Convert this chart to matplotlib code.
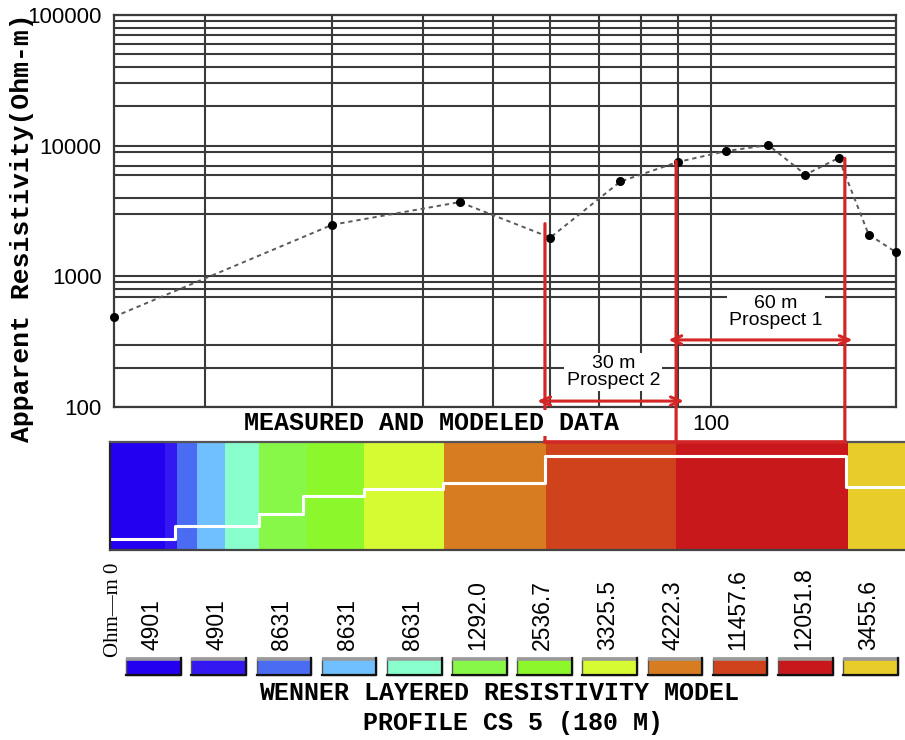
import numpy as np
import matplotlib
matplotlib.use("Agg")
import matplotlib.pyplot as plt
from matplotlib.ticker import FixedLocator, FixedFormatter, NullFormatter
from matplotlib.patches import Rectangle, ConnectionPatch
from matplotlib import font_manager

# ---------------- data ----------------
spacing_m = [15, 30, 45, 60, 75, 90, 105, 120, 135, 150, 165, 180]
app_res = [490, 2480, 3700, 1980, 5320, 7500, 9100, 10100, 6000, 8050, 2090, 1530]

y_major = [100, 1000, 10000, 100000]
y_major_labels = ["100", "1000", "10000", "100000"]
y_grid_minor = [200, 300, 700, 800, 900,
                3000, 4000, 6000, 7000, 9000,
                20000, 30000, 40000, 50000, 60000, 70000, 80000, 90000]
x_major = [100]
x_major_labels = ["100"]
x_grid_minor = [20, 30, 40, 50, 60, 70, 80, 90]

# prospect markers (x in m along log axis, top of line in Ohm-m)
red_x = [59, 89.5, 153]
red_top = [2530, 7600, 8000]
prospect_labels = ["30 m\nProspect 2", "60 m\nProspect 1"]
prospect_bounds = [(59, 89.5), (89.5, 153)]
prospect_arrow_res = [111, 326]
prospect_label_x = [73.3, 123]
prospect_label_res = [186, 533]

# layered model bar
layer_edges = [14.81, 17.62, 18.33, 19.53, 21.34, 23.78, 27.70, 33.2, 42.8, 59.2, 89.5, 154.5, 185.2]
layer_colors = ["#2400f0", "#3318f2", "#4a6cf3", "#70c0ff", "#88ffcc", "#88f848",
                "#8cf82c", "#d6fb32", "#d87c22", "#d0421c", "#c8181c", "#e8cc2a"]
step_x = [14.81, 18.21, 23.78, 27.34, 33.2, 42.7, 59.0, 153.5, 185.2]
step_depth = [0.90, 0.78, 0.67, 0.50, 0.435, 0.38, 0.13, 0.415]

legend_labels = ["4901", "4901", "8631", "8631", "8631", "1292.0", "2536.7",
                 "3325.5", "4222.3", "11457.6", "12051.8", "3455.6"]

RED = "#d42626"
GRID = "#3a3a3a"

names = {f.name for f in font_manager.fontManager.ttflist}
if "Liberation Sans Narrow" in names:
    narrow_font, narrow_size = "Liberation Sans Narrow", 19.5
else:
    narrow_font, narrow_size = "Liberation Sans", 16.5
SANS = "Liberation Sans"
MONO = "Liberation Mono"

W, H = 905, 740
fig = plt.figure(figsize=(W / 100, H / 100), dpi=100)


def fr(x0, y0, x1, y1):
    return [x0 / W, 1 - y1 / H, (x1 - x0) / W, (y1 - y0) / H]


# ---------------- top chart ----------------
ax = fig.add_axes(fr(114, 15, 896, 407))
ax.set_xscale("log")
ax.set_yscale("log")
ax.set_xlim(15, 180)
ax.set_ylim(100, 100000)

ax.xaxis.set_major_locator(FixedLocator(x_major))
ax.xaxis.set_major_formatter(FixedFormatter(x_major_labels))
ax.xaxis.set_minor_locator(FixedLocator(x_grid_minor))
ax.xaxis.set_minor_formatter(NullFormatter())
ax.yaxis.set_major_locator(FixedLocator(y_major))
ax.yaxis.set_major_formatter(FixedFormatter(y_major_labels))
ax.yaxis.set_minor_locator(FixedLocator(y_grid_minor))
ax.yaxis.set_minor_formatter(NullFormatter())
ax.grid(True, which="both", color=GRID, lw=1.5)
ax.set_axisbelow(True)
ax.tick_params(which="both", length=0)
ax.tick_params(axis="y", pad=9, labelsize=16)
ax.tick_params(axis="x", pad=5, labelsize=16)
for lab in ax.get_xticklabels() + ax.get_yticklabels():
    lab.set_family(SANS)
for s in ax.spines.values():
    s.set_color(GRID)
    s.set_linewidth(1.6)

ax.plot(spacing_m, app_res, linestyle=(0, (2.2, 2.0)), color="#5a5a5a", lw=1.4,
        zorder=3, clip_on=False)
ax.plot(spacing_m, app_res, "o", color="black", ms=5.5, zorder=4, clip_on=False)

# ---------------- layered model bar ----------------
ppd = 782 / np.log10(180 / 15)
bax = fig.add_axes(fr(110, 442, 905, 550))
bax.set_xscale("log")
bax.set_xlim(15 * 10 ** ((110 - 114) / ppd), 15 * 10 ** ((905 - 114) / ppd))
bax.set_ylim(1, 0)
edges = np.array(layer_edges)
bax.bar(edges[:-1], 1, width=np.diff(edges), bottom=0, align="edge",
        color=layer_colors, linewidth=0)
bax.step(step_x, step_depth + [step_depth[-1]], where="post", color="white", lw=2.2)
bax.set_xticks([])
bax.set_yticks([])
bax.minorticks_off()
bax.tick_params(which="both", length=0, labelbottom=False, labelleft=False)
bax.spines["right"].set_visible(False)
bax.spines["top"].set_color("#555555")
bax.spines["bottom"].set_color("#444444")
bax.spines["left"].set_color("#222222")
for s in ("top", "bottom", "left"):
    bax.spines[s].set_linewidth(1.6)
bax.plot([red_x[0], red_x[-1]], [0, 0], color=RED, lw=2.6, clip_on=False, zorder=5)

# red prospect boundary lines
for x, top in zip(red_x, red_top):
    cp = ConnectionPatch(xyA=(x, top), coordsA=ax.transData,
                         xyB=(x, 0), coordsB=bax.transData,
                         color=RED, lw=2.3, zorder=2)
    fig.add_artist(cp)

over = 10 ** (8 / ppd)
for (x0, x1), yres, lab, lx, ly in zip(prospect_bounds, prospect_arrow_res, prospect_labels,
                                       prospect_label_x, prospect_label_res):
    ax.annotate("", xy=(x1 * over, yres), xytext=(x0 / over, yres),
                arrowprops=dict(arrowstyle="<->,head_length=0.7,head_width=0.3",
                                color=RED, lw=2.2, shrinkA=0, shrinkB=0),
                annotation_clip=False, zorder=6)
    ax.text(lx, ly, lab, ha="center", va="center", family=SANS, size=14,
            linespacing=1.0, zorder=7,
            bbox=dict(fc="white", ec="none", pad=1.5))

# ---------------- legend ----------------
lax = fig.add_axes(fr(121, 555, 903, 680))
lax.set_xlim(0, 12)
lax.set_ylim(125, 0)
lax.axis("off")
for i, (c, lab) in enumerate(zip(layer_colors, legend_labels)):
    lax.add_patch(Rectangle((i + 0.08, 103), 0.84, 17, fc=c, ec="#555555", lw=1.0))
    lax.plot([i + 0.08, i + 0.92], [103.5, 103.5], color="#9a9a9a", lw=2.6,
             solid_capstyle="butt")
    lax.plot([i + 0.92, i + 0.92, i + 0.08], [103, 120, 120], color="#111111", lw=1.6)
    lax.text(i + 0.47, 95, lab, rotation=90, ha="center", va="bottom",
             family=narrow_font, size=narrow_size)
lax.text(-0.12, 102, "Ohm\u2014m 0", rotation=90, ha="center", va="bottom",
         family="Liberation Serif", size=15, clip_on=False)

# ---------------- titles ----------------
fig.text(22 / W, 1 - 228 / H, "Apparent Resistivity(Ohm-m)", rotation=90,
         ha="center", va="center", family=MONO, weight="bold", size=19)
fig.text(431 / W, 1 - 423 / H, "MEASURED AND MODELED DATA", ha="center", va="center",
         family=MONO, weight="bold", size=18, zorder=5,
         bbox=dict(fc="white", ec="none", pad=0.5))
fig.text(499 / W, 1 - 693 / H, "WENNER LAYERED RESISTIVITY MODEL", ha="center",
         va="center", family=MONO, weight="bold", size=18)
fig.text(513 / W, 1 - 723 / H, "PROFILE CS 5 (180 M)", ha="center", va="center",
         family=MONO, weight="bold", size=18)

fig.savefig("out.png", dpi=100)
